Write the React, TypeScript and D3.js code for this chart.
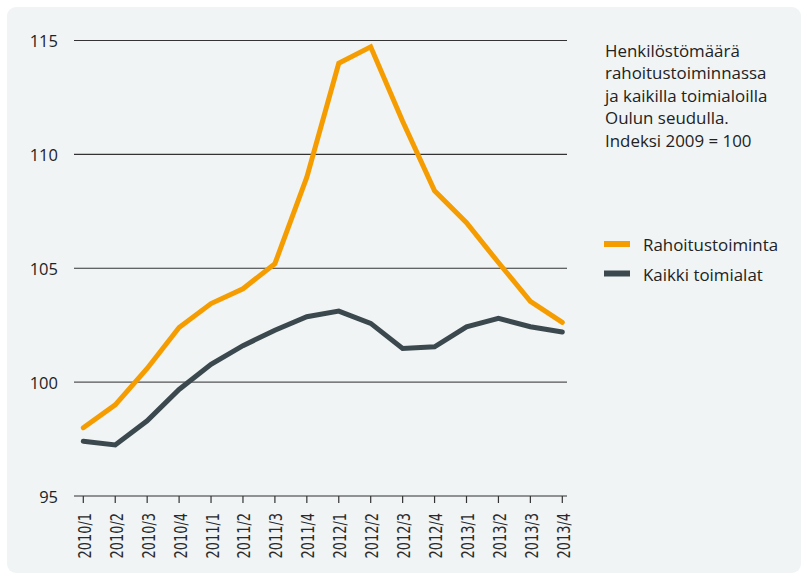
import React from "react";
import * as d3 from "d3";

const categories = [
  "2010/1", "2010/2", "2010/3", "2010/4",
  "2011/1", "2011/2", "2011/3", "2011/4",
  "2012/1", "2012/2", "2012/3", "2012/4",
  "2013/1", "2013/2", "2013/3", "2013/4",
];
const rahoitus = [98.0, 99.0, 100.6, 102.4, 103.45, 104.1, 105.2, 109.0, 114.0, 114.72, 111.45, 108.4, 107.0, 105.25, 103.55, 102.62];
const kaikki = [97.4, 97.24, 98.3, 99.68, 100.78, 101.6, 102.28, 102.87, 103.12, 102.58, 101.48, 101.55, 102.43, 102.8, 102.43, 102.2];
const yTicks = [95, 100, 105, 110, 115];
const titleLines = [
  "Henkilöstömäärä",
  "rahoitustoiminnassa",
  "ja kaikilla toimialoilla",
  "Oulun seudulla.",
  "Indeksi 2009 = 100",
];
const seriesNames = ["Rahoitustoiminta", "Kaikki toimialat"];
const colors = ["#f59d00", "#3b494f"];

const W = 805;
const H = 574;
const FONT = "'Open Sans', 'Noto Sans', sans-serif";

export default function App() {
  const x = d3.scaleLinear().domain([0, categories.length - 1]).range([83.3, 562.3]);
  const y = d3.scaleLinear().domain([95, 115]).range([496, 40.5]);
  const gridX0 = 74;
  const gridX1 = 567;
  const line = d3
    .line<number>()
    .x((_, i) => x(i))
    .y((d) => y(d));
  const series = [rahoitus, kaikki];

  return (
    <svg
      width={W}
      height={H}
      style={{ position: "absolute", left: 0, top: 0 }}
      fontFamily={FONT}
    >
      <rect x={0} y={0} width={W} height={H} fill="#ffffff" />
      <rect x={7} y={7} width={794} height={566} rx={9} fill="#f0f4f5" />

      {yTicks.map((t) => (
        <g key={t}>
          <line
            x1={gridX0}
            x2={gridX1}
            y1={y(t)}
            y2={y(t)}
            stroke={t === 95 ? "#707070" : t === 100 ? "#555" : "#333"}
            strokeWidth={t === 95 ? 1.6 : 1.1}
          />
          <text
            x={58}
            y={y(t) + 6.5}
            textAnchor="end"
            fontSize={16.5}
            fill="#222"
          >
            {t}
          </text>
        </g>
      ))}

      {categories.map((c, i) => (
        <g key={c}>
          <line x1={x(i)} x2={x(i)} y1={y(95)} y2={y(95) + 7} stroke="#333" strokeWidth={1.2} />
          <text
            transform={`translate(${x(i) + 1.5},${513}) rotate(-90)`}
            textAnchor="end"
            dominantBaseline="central"
            fontSize={17.5}
            textLength={45.5}
            lengthAdjust="spacingAndGlyphs"
            fontFamily="'Liberation Sans Narrow', 'DejaVu Sans Condensed', sans-serif"
            fill="#2a2a2a"
          >
            {c}
          </text>
        </g>
      ))}

      {series.map((s, k) => (
        <path
          key={k}
          d={line(s) || ""}
          fill="none"
          stroke={colors[k]}
          strokeWidth={5}
          strokeLinejoin="miter"
          strokeLinecap="round"
        />
      ))}

      {titleLines.map((t, i) => (
        <text key={i} x={605} y={56.5 + i * 22.6} fontSize={16.9} fill="#222">
          {t}
        </text>
      ))}

      {seriesNames.map((n, i) => (
        <g key={n}>
          <rect x={604} y={241 + i * 29.5} width={26} height={6} fill={colors[i]} />
          <text x={643} y={250.5 + i * 30.5} fontSize={16.9} fill="#222">
            {n}
          </text>
        </g>
      ))}
    </svg>
  );
}
